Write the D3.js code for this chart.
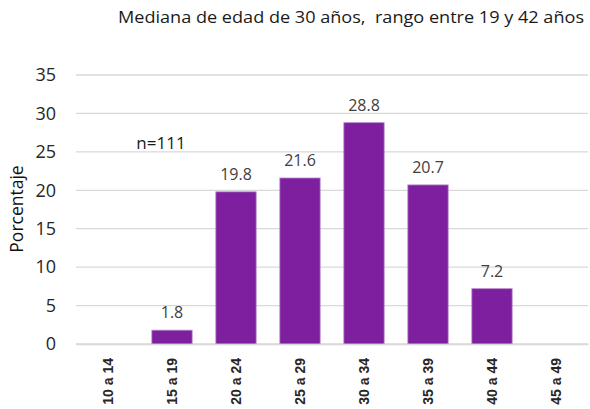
<!DOCTYPE html>
<html>
<head>
<meta charset="utf-8">
<script src="https://cdn.jsdelivr.net/npm/d3@7"></script>
<style>
  body { margin: 0; background: #fff; }
  text { font-family: "Open Sans", "Liberation Sans", sans-serif; }
</style>
</head>
<body>
<script>
var categories = ["10 a 14", "15 a 19", "20 a 24", "25 a 29", "30 a 34", "35 a 39", "40 a 44", "45 a 49"];
var values = [0, 1.8, 19.8, 21.6, 28.8, 20.7, 7.2, 0];
var yTicks = [0, 5, 10, 15, 20, 25, 30, 35];
var title = "Mediana de edad de 30 años,  rango entre 19 y 42 años";
var yLabel = "Porcentaje";
var note = "n=111";

var W = 590, H = 409;
var margin = {top: 75, right: 2, bottom: 65, left: 76},
    width = W - margin.left - margin.right,
    height = H - margin.top - margin.bottom;

var svg = d3.select("body").append("svg")
    .attr("width", W)
    .attr("height", H);

var g = svg.append("g")
    .attr("transform", "translate(" + margin.left + "," + margin.top + ")");

var x = d3.scaleBand()
    .domain(categories)
    .range([0, width])
    .paddingInner(0.37)
    .paddingOuter(0.185);

var y = d3.scaleLinear()
    .domain([0, 35])
    .range([height, 0]);

// gridlines
g.selectAll("line.grid")
    .data(yTicks)
    .enter().append("line")
    .attr("class", "grid")
    .attr("x1", 0)
    .attr("x2", width)
    .attr("y1", function(d) { return y(d); })
    .attr("y2", function(d) { return y(d); })
    .attr("stroke", "#d9d9d9")
    .attr("stroke-width", 1.3);

// y axis labels
var yAxis = g.append("g")
    .call(d3.axisLeft(y).tickValues(yTicks).tickSize(0).tickPadding(20));
yAxis.select(".domain").remove();
yAxis.selectAll("text")
    .style("font-size", "18px")
    .attr("fill", "#262626")
    .style("font-family", "'Open Sans', sans-serif");

// bars
g.selectAll("rect.bar")
    .data(values)
    .enter().append("rect")
    .attr("class", "bar")
    .attr("x", function(d, i) { return x(categories[i]); })
    .attr("width", x.bandwidth())
    .attr("y", function(d) { return y(d); })
    .attr("height", function(d) { return height - y(d); })
    .attr("fill", "#7e1fa0")
    .attr("stroke", "#b58ccc")
    .attr("stroke-width", 0.8);

// value labels
g.selectAll("text.val")
    .data(values)
    .enter().filter(function(d) { return d > 0; })
    .append("text")
    .attr("class", "val")
    .attr("x", function(d) { return x(categories[values.indexOf(d)]) + x.bandwidth() / 2; })
    .attr("y", function(d) { return y(d) - 12; })
    .attr("text-anchor", "middle")
    .attr("fill", "#404040")
    .style("font-size", "16px")
    .text(function(d) { return d.toFixed(1); });

// x axis
var xAxis = g.append("g")
    .attr("transform", "translate(0," + height + ")")
    .call(d3.axisBottom(x).tickSize(0).tickPadding(0));
xAxis.select(".domain")
    .attr("stroke", "#d9d9d9")
    .attr("stroke-width", 1.3);
xAxis.selectAll("text")
    .attr("transform", "rotate(-90)")
    .attr("x", -14)
    .attr("y", 0)
    .attr("dy", "0.35em")
    .attr("text-anchor", "end")
    .attr("fill", "#262626")
    .style("font-size", "14px")
    .style("font-weight", "bold")
    .style("font-family", "'Liberation Sans', sans-serif");

// title
svg.append("text")
    .attr("x", 351)
    .attr("y", 23)
    .attr("text-anchor", "middle")
    .attr("fill", "#1a1a1a")
    .style("font-size", "17px")
    .style("white-space", "pre")
    .attr("textLength", 466)
    .attr("lengthAdjust", "spacingAndGlyphs")
    .text(title);

// y label
svg.append("text")
    .attr("transform", "translate(23," + 209 + ") rotate(-90)")
    .attr("text-anchor", "middle")
    .attr("fill", "#111")
    .style("font-size", "17.5px")
    .text(yLabel);

// n note
g.append("text")
    .attr("x", x(categories[1]) + x.bandwidth() / 2 - 11)
    .attr("y", y(25.4))
    .attr("text-anchor", "middle")
    .attr("fill", "#1a1a1a")
    .style("font-size", "17px")
    .text(note);
</script>
</body>
</html>
